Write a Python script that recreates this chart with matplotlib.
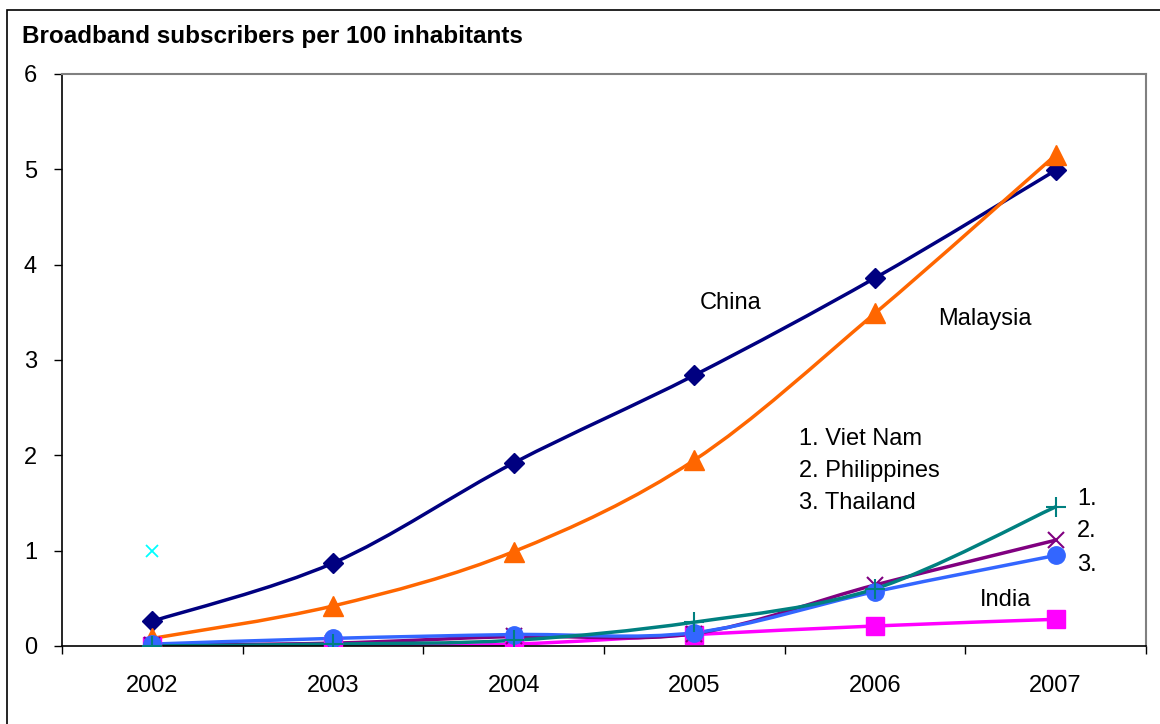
import numpy as np
import matplotlib
matplotlib.use("Agg")
import matplotlib.pyplot as plt
from matplotlib.path import Path
from matplotlib.patches import PathPatch, Rectangle
from matplotlib.ticker import FixedLocator, NullFormatter, FixedFormatter

plt.rcParams['font.family'] = ['Liberation Sans', 'DejaVu Sans']

years = [2002, 2003, 2004, 2005, 2006, 2007]
china = [0.26, 0.87, 1.92, 2.84, 3.86, 4.99]
malaysia = [0.08, 0.42, 0.99, 1.95, 3.49, 5.15]
viet_nam = [0.00, 0.02, 0.06, 0.25, 0.60, 1.46]
philippines = [0.01, 0.03, 0.10, 0.13, 0.64, 1.11]
thailand = [0.02, 0.08, 0.12, 0.14, 0.57, 0.95]
india = [0.00, 0.00, 0.02, 0.12, 0.21, 0.28]
stray_year, stray_value = 2002, 1.0


def smooth_path(x, y):
    # Bezier curve through every point, like a spreadsheet's smoothed line
    x = np.asarray(x, float)
    y = np.asarray(y, float)
    pts = np.column_stack([x, y])
    verts = [pts[0]]
    codes = [Path.MOVETO]
    n = len(pts)
    for i in range(n - 1):
        p0 = pts[i - 1] if i > 0 else pts[i]
        p1 = pts[i]
        p2 = pts[i + 1]
        p3 = pts[i + 2] if i + 2 < n else pts[i + 1]
        c1 = p1 + (p2 - p0) / 6.0
        c2 = p2 - (p3 - p1) / 6.0
        verts += [c1, c2, p2]
        codes += [Path.CURVE4] * 3
    return Path(verts, codes)


fig = plt.figure(figsize=(11.6, 7.24), dpi=100)
fig.patches.append(Rectangle((7 / 1160, -0.05), 1.2, (724 - 10) / 724 + 0.05,
                             transform=fig.transFigure, fill=False,
                             edgecolor='black', linewidth=1.2))
ax = fig.add_axes([62 / 1160, 78 / 724, (1146 - 62) / 1160, (646 - 74) / 724])

series = [
    (china, '#000080', 'D', 10.5),
    (malaysia, '#FF6600', '^', 14),
    (india, '#FF00FF', 's', 12.5),
    (philippines, '#800080', 'x', 12),
    (thailand, '#3366FF', 'o', 12.5),
    (viet_nam, '#008080', '+', 15),
]
for vals, col, mk, ms in series:
    ax.add_patch(PathPatch(smooth_path(years, vals), facecolor='none',
                           edgecolor=col, linewidth=2.5, zorder=2))
    ax.plot(years, vals, linestyle='none', marker=mk, markersize=ms,
            color=col, markeredgewidth=1.5 if mk in 'x+' else 1, zorder=3)

ax.plot([stray_year], [stray_value], linestyle='none', marker='x',
        markersize=9, color='#00FFFF', markeredgewidth=1.3)

ax.set_xlim(2001.5, 2007.5)
ax.set_ylim(0, 6)

ax.xaxis.set_major_locator(FixedLocator(np.arange(2001.5, 2008, 1)))
ax.xaxis.set_major_formatter(NullFormatter())
ax.xaxis.set_minor_locator(FixedLocator(years))
ax.xaxis.set_minor_formatter(FixedFormatter([str(y) for y in years]))
ax.tick_params(axis='x', which='major', direction='out', length=6, width=1)
ax.tick_params(axis='x', which='minor', length=0, pad=21, labelsize=17)
ax.set_yticks(range(0, 7))
ax.tick_params(axis='y', direction='out', length=6, width=1, labelsize=17, pad=12)

for side in ('top', 'right'):
    ax.spines[side].set_color('#808080')
    ax.spines[side].set_linewidth(1.5)
for side in ('left', 'bottom'):
    ax.spines[side].set_color('black')
    ax.spines[side].set_linewidth(1.2)

label_kw = dict(fontsize=17, va='center')
ax.text(2005.2, 3.6, 'China', ha='center', **label_kw)
ax.text(2006.61, 3.43, 'Malaysia', ha='center', **label_kw)
ax.text(2005.58, 2.17, '1. Viet Nam', ha='left', **label_kw)
ax.text(2005.58, 1.84, '2. Philippines', ha='left', **label_kw)
ax.text(2005.58, 1.50, '3. Thailand', ha='left', **label_kw)
ax.text(2007.12, 1.54, '1.', ha='left', **label_kw)
ax.text(2007.12, 1.21, '2.', ha='left', **label_kw)
ax.text(2007.12, 0.85, '3.', ha='left', **label_kw)
ax.text(2006.72, 0.48, 'India', ha='center', **label_kw)

fig.text(22 / 1160, 1 - 37 / 724, 'Broadband subscribers per 100 inhabitants',
         fontsize=17.5, fontweight='bold', ha='left', va='center')

fig.savefig('out.png', dpi=100)
